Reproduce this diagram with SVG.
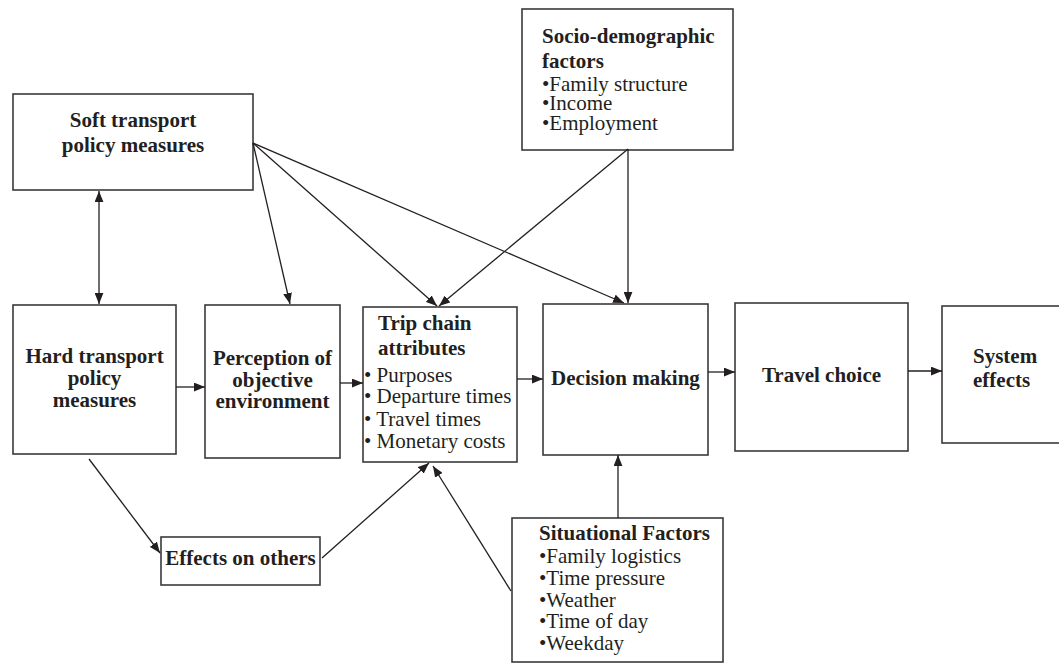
<svg xmlns="http://www.w3.org/2000/svg" width="1059" height="664" viewBox="0 0 1059 664">
<style>
.box{fill:#fff;stroke:#3a3a3a;stroke-width:1.6}
.t{font-family:"Liberation Serif","Times New Roman",serif;font-size:21px;fill:#231f20}
.b{font-weight:bold}
.c{text-anchor:middle}
.ln{stroke:#231f20;stroke-width:1.3;fill:none;marker-end:url(#ah)}
</style>
<defs>
<marker id="ah" viewBox="0 0 10 8" refX="10" refY="4" markerWidth="11" markerHeight="9" markerUnits="userSpaceOnUse" orient="auto-start-reverse">
<path d="M0,0 L10,4 L0,8 Z" fill="#231f20"/>
</marker>
</defs>
<rect width="1059" height="664" fill="#fff"/>
<g id="soft">
<rect class="box" x="13" y="94" width="240" height="96"/>
<text class="t b c" x="133" y="127">Soft transport</text>
<text class="t b c" x="133" y="152">policy measures</text>
</g>
<g id="socio">
<rect class="box" x="522" y="9" width="211" height="141"/>
<text class="t b" x="542" y="43">Socio-demographic</text>
<text class="t b" x="542" y="68">factors</text>
<text class="t" x="542" y="91">•Family structure</text>
<text class="t" x="542" y="110">•Income</text>
<text class="t" x="542" y="130">•Employment</text>
</g>
<g id="hard">
<rect class="box" x="13" y="305" width="163" height="149"/>
<text class="t b c" x="94.5" y="363">Hard transport</text>
<text class="t b c" x="94.5" y="385">policy</text>
<text class="t b c" x="94.5" y="407">measures</text>
</g>
<g id="perception">
<rect class="box" x="205" y="305" width="135" height="153"/>
<text class="t b c" x="272.5" y="365">Perception of</text>
<text class="t b c" x="272.5" y="387">objective</text>
<text class="t b c" x="272.5" y="408">environment</text>
</g>
<g id="trip">
<rect class="box" x="363" y="307" width="154" height="155"/>
<text class="t b" x="378" y="330">Trip chain</text>
<text class="t b" x="378" y="355">attributes</text>
<text class="t" x="364" y="382">• Purposes</text>
<text class="t" x="364" y="403">• Departure times</text>
<text class="t" x="364" y="426">• Travel times</text>
<text class="t" x="364" y="448">• Monetary costs</text>
</g>
<g id="decision">
<rect class="box" x="543" y="304" width="165" height="151"/>
<text class="t b c" x="625.5" y="385">Decision making</text>
</g>
<g id="travel">
<rect class="box" x="735" y="303" width="173" height="148"/>
<text class="t b c" x="821.5" y="382">Travel choice</text>
</g>
<g id="system">
<rect class="box" x="942" y="306" width="125" height="137"/>
<text class="t b" x="973" y="363">System</text>
<text class="t b" x="973" y="387">effects</text>
</g>
<g id="effects">
<rect class="box" x="161" y="537" width="159" height="48"/>
<text class="t b c" x="240.5" y="565">Effects on others</text>
</g>
<g id="situational">
<rect class="box" x="512" y="518" width="211" height="144"/>
<text class="t b" x="539" y="540">Situational Factors</text>
<text class="t" x="539" y="563">•Family logistics</text>
<text class="t" x="539" y="585">•Time pressure</text>
<text class="t" x="539" y="607">•Weather</text>
<text class="t" x="539" y="628">•Time of day</text>
<text class="t" x="539" y="650">•Weekday</text>
</g>
<g id="connectors">
<line class="ln" x1="99" y1="191" x2="99" y2="304" style="marker-start:url(#ah)"/>
<line class="ln" x1="253" y1="143" x2="290" y2="304"/>
<line class="ln" x1="253" y1="143" x2="437" y2="306"/>
<line class="ln" x1="253" y1="143" x2="624" y2="303"/>
<line class="ln" x1="628" y1="149" x2="439" y2="306"/>
<line class="ln" x1="628" y1="149" x2="628" y2="303"/>
<line class="ln" x1="176" y1="387" x2="205" y2="387"/>
<line class="ln" x1="340" y1="383" x2="363" y2="383"/>
<line class="ln" x1="517" y1="379" x2="543" y2="379"/>
<line class="ln" x1="708" y1="372" x2="735" y2="372"/>
<line class="ln" x1="908" y1="371" x2="942" y2="371"/>
<line class="ln" x1="89" y1="459" x2="160" y2="553"/>
<line class="ln" x1="322" y1="558" x2="429" y2="463"/>
<line class="ln" x1="511" y1="591" x2="433" y2="466"/>
<line class="ln" x1="618" y1="518" x2="618" y2="455"/>
</g>
</svg>
